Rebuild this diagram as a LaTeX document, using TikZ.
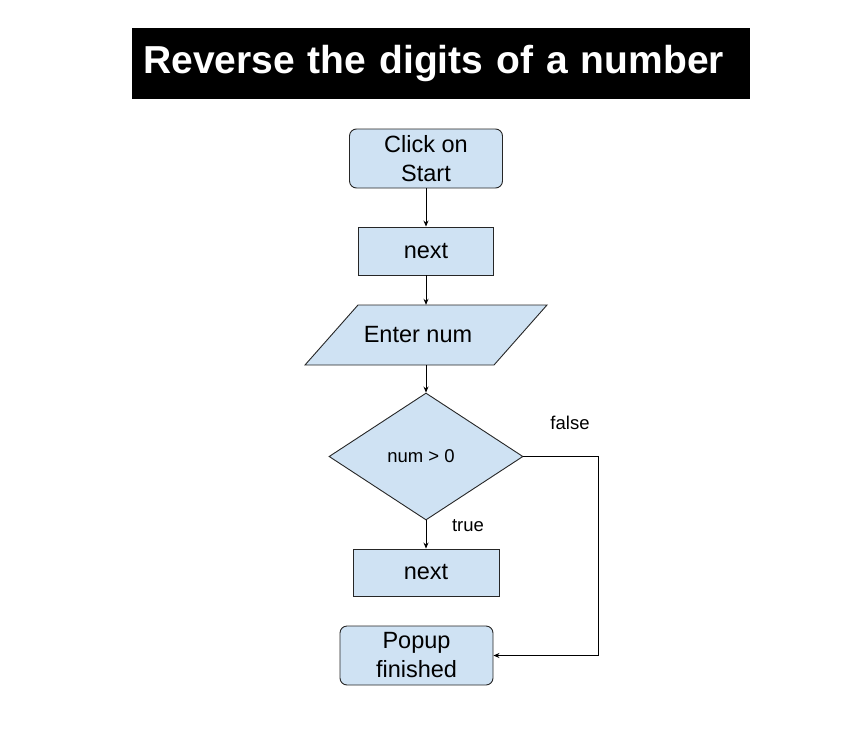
\documentclass[tikz,border=0pt]{standalone}
\usepackage{fontspec}
\setmainfont{Liberation Sans}
\usetikzlibrary{arrows.meta, shapes.geometric, calc}

\definecolor{boxblue}{HTML}{CFE2F3}

\begin{document}
\begin{tikzpicture}[
		x=1pt, y=-1pt,
		shp/.style={draw=black!85, line width=0.9pt, fill=boxblue},
		blk/.style={shp, inner sep=0pt, align=center, font=\fontsize{23.5}{29}\selectfont},
		rnd/.style={blk, rounded corners=7pt},
		dec/.style={blk, diamond, font=\fontsize{18.5}{22}\selectfont},
		lbl/.style={font=\fontsize{18.5}{22}\selectfont, inner sep=0pt},
		flow/.style={-{Stealth[length=6pt,width=5pt]}, line width=0.8pt},
		>=Stealth
	]
	\useasboundingbox (0,0) rectangle (861,733);

	\node[fill=black, text=white, anchor=west, minimum height=71, text width=596, inner xsep=11, align=left,
	      font=\bfseries\fontsize{39}{47}\selectfont] (title) at (132,63.5) {Reverse the digits of a number};

	\node[rnd, minimum width=153, minimum height=59] (start) at (426,158.5) {Click on\\Start};
	\node[blk, minimum width=135, minimum height=48] (next1) at (426,251) {next};

	% input box: parallelogram drawn round its text node
	\coordinate (enterc) at (426,335);
	\filldraw[shp] ($(enterc)+(-68,-30)$) -- ($(enterc)+(121,-30)$) -- ($(enterc)+(68,30)$) -- ($(enterc)+(-121,30)$) -- cycle;
	\node[inner sep=0pt, minimum height=60, font=\fontsize{23.5}{29}\selectfont] (enter) at (enterc) {\hspace*{-16pt}Enter num};

	\node[dec, minimum width=194, minimum height=127] (check) at (426,456.5) {\hspace*{-10pt}num > 0};
	\node[blk, minimum width=146, minimum height=47] (next2) at (426,572.5) {next};
	\node[rnd, minimum width=153, minimum height=59] (popup) at (416.5,655.5) {Popup\\finished};

	\node[lbl] (falselbl) at (570,423) {false};
	\node[lbl] (truelbl) at (468,526) {true};

	\draw[flow] (start) -- (next1);
	\draw[flow] (next1) -- (enter);
	\draw[flow] (enter) -- (check);
	\draw[flow] (check) -- (next2);

	\coordinate (turn) at (598,655.5);
	\draw[flow] (check.east) -| (turn) -- (popup.east);
\end{tikzpicture}
\end{document}
